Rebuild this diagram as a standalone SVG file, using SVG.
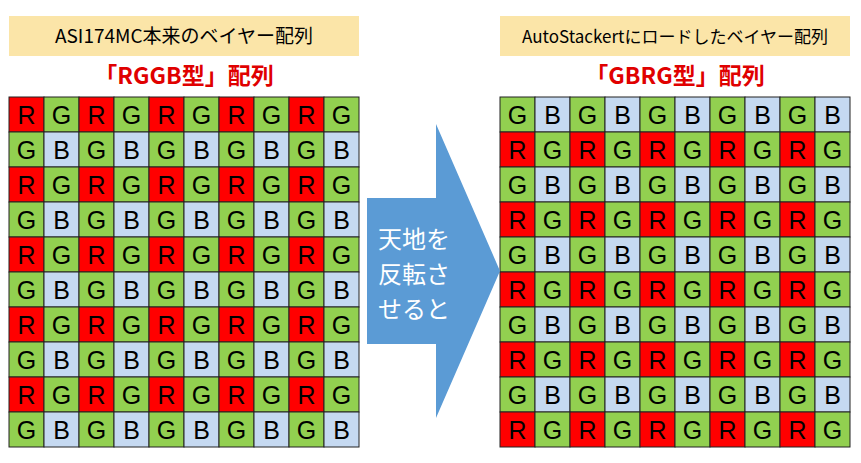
<svg xmlns="http://www.w3.org/2000/svg" xmlns:xlink="http://www.w3.org/1999/xlink" width="861" height="463" viewBox="0 0 861 463">
<style>
.r{fill:#FF0000;stroke:#222;stroke-width:1}
.g{fill:#92D050;stroke:#222;stroke-width:1}
.b{fill:#C5D9F1;stroke:#222;stroke-width:1}
.t{font-family:"Liberation Sans",Arial,sans-serif;font-size:25px;fill:#000;text-anchor:middle}
.ttl{font-family:"Noto Sans CJK JP","Liberation Sans",sans-serif;font-size:19px;fill:#000;text-anchor:middle}
.red{font-family:"Noto Sans CJK JP","Liberation Sans",sans-serif;font-size:23px;font-weight:bold;fill:#E00000;text-anchor:middle}
.ar{font-family:"Noto Sans CJK JP",sans-serif;font-size:24px;fill:#fff}
</style>
<defs>
<g id="cR"><rect class="r" width="35" height="35"/><text class="t" x="17.5" y="27">R</text></g>
<g id="cG"><rect class="g" width="35" height="35"/><text class="t" x="17.5" y="27">G</text></g>
<g id="cB"><rect class="b" width="35" height="35"/><text class="t" x="17.5" y="27">B</text></g>
<g id="rowRG"><use xlink:href="#cR"/><use xlink:href="#cG" x="35"/><use xlink:href="#cR" x="70"/><use xlink:href="#cG" x="105"/><use xlink:href="#cR" x="140"/><use xlink:href="#cG" x="175"/><use xlink:href="#cR" x="210"/><use xlink:href="#cG" x="245"/><use xlink:href="#cR" x="280"/><use xlink:href="#cG" x="315"/></g>
<g id="rowGB"><use xlink:href="#cG"/><use xlink:href="#cB" x="35"/><use xlink:href="#cG" x="70"/><use xlink:href="#cB" x="105"/><use xlink:href="#cG" x="140"/><use xlink:href="#cB" x="175"/><use xlink:href="#cG" x="210"/><use xlink:href="#cB" x="245"/><use xlink:href="#cG" x="280"/><use xlink:href="#cB" x="315"/></g>
</defs>
<rect width="861" height="463" fill="#fff"/>
<g id="leftTitle"><rect x="9" y="16" width="350" height="40" fill="#FBE5A8"/><text class="ttl" x="184" y="43">ASI174MC本来のベイヤー配列</text></g>
<g id="leftLabel"><text class="red" x="184" y="84">「RGGB型」配列</text></g>
<g id="leftGrid">
<use xlink:href="#rowRG" x="9" y="97"/><use xlink:href="#rowGB" x="9" y="132"/>
<use xlink:href="#rowRG" x="9" y="167"/><use xlink:href="#rowGB" x="9" y="202"/>
<use xlink:href="#rowRG" x="9" y="237"/><use xlink:href="#rowGB" x="9" y="272"/>
<use xlink:href="#rowRG" x="9" y="307"/><use xlink:href="#rowGB" x="9" y="342"/>
<use xlink:href="#rowRG" x="9" y="377"/><use xlink:href="#rowGB" x="9" y="412"/>
</g>
<g id="rightTitle"><rect x="500" y="16" width="350" height="40" fill="#FBE5A8"/><text class="ttl" x="675" y="43" style="font-size:17px">AutoStackertにロードしたベイヤー配列</text></g>
<g id="rightLabel"><text class="red" x="675" y="84">「GBRG型」配列</text></g>
<g id="rightGrid">
<use xlink:href="#rowGB" x="500" y="97"/><use xlink:href="#rowRG" x="500" y="132"/>
<use xlink:href="#rowGB" x="500" y="167"/><use xlink:href="#rowRG" x="500" y="202"/>
<use xlink:href="#rowGB" x="500" y="237"/><use xlink:href="#rowRG" x="500" y="272"/>
<use xlink:href="#rowGB" x="500" y="307"/><use xlink:href="#rowRG" x="500" y="342"/>
<use xlink:href="#rowGB" x="500" y="377"/><use xlink:href="#rowRG" x="500" y="412"/>
</g>
<g id="arrow">
<polygon points="367,198 436,198 436,124 500,271 436,418 436,344 367,344" fill="#5B9BD5"/>
<text class="ar" x="378" y="248">天地を</text>
<text class="ar" x="378" y="283">反転さ</text>
<text class="ar" x="378" y="318">せると</text>
</g>
<g id="connectors"/>
</svg>
